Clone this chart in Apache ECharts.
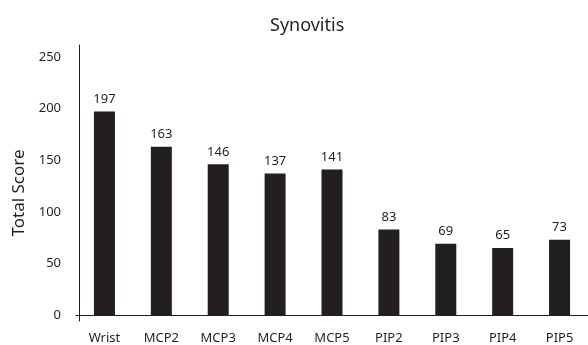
<!DOCTYPE html>
<html><head><meta charset="utf-8">
<script src="https://cdn.jsdelivr.net/npm/echarts@6/dist/echarts.min.js"></script>
<style>html,body{margin:0;padding:0;background:#fff}#c{width:588px;height:345px}</style>
</head><body><div id="c"></div>
<script>
const categories = ['Wrist','MCP2','MCP3','MCP4','MCP5','PIP2','PIP3','PIP4','PIP5'];
const totalScore = [197,163,146,137,141,83,69,65,73];
const titleText = 'Synovitis';
const yName = 'Total Score';

const ink = '#231f20';
const font = 'Noto Sans';
const chart = echarts.init(document.getElementById('c'), null, {renderer:'canvas'});
chart.setOption({
  animation:false,
  backgroundColor:'#fff',
  title:{text:titleText,left:265,top:12,textStyle:{fontFamily:font,fontSize:18,fontWeight:'normal',color:ink}},
  grid:{left:76,top:45,width:519.75,bottom:20,containLabel:false},
  xAxis:{type:'category',data:categories,
    axisLine:{onZero:true,lineStyle:{color:ink,width:1}},
    axisTick:{show:false},
    axisLabel:{color:ink,fontFamily:font,fontSize:13,margin:11}},
  yAxis:{type:'value',min:-5.7,max:261.5,offset:-3,
    name:yName,nameLocation:'middle',nameGap:45,
    nameTextStyle:{fontFamily:font,fontSize:17,color:ink,padding:[0,20,0,0]},
    splitLine:{show:false},axisTick:{show:false},
    axisLine:{show:true,lineStyle:{color:ink,width:1}},
    axisLabel:{color:ink,fontFamily:font,fontSize:13,margin:18,
      formatter:v=>(Math.abs(v%50)<1e-6?String(v):'')}},
  series:[{type:'bar',data:totalScore,barWidth:21,
    itemStyle:{color:ink},
    label:{show:true,position:'top',distance:6,color:ink,fontFamily:font,fontSize:13}}]
});
</script></body></html>
